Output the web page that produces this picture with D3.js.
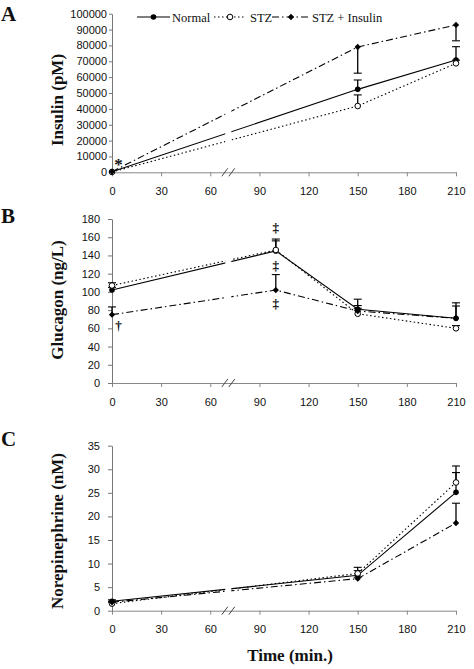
<!DOCTYPE html>
<html>
<head>
<meta charset="utf-8">
<script src="https://cdn.jsdelivr.net/npm/d3@7"></script>
<style>
  body { margin: 0; background: #fff; }
  text { fill: #111; }
</style>
</head>
<body>
<svg id="fig" width="474" height="669"></svg>
<script>
// ---- data ----
const seriesNames = ["Normal", "STZ", "STZ + Insulin"];
const timeTicks = [0, 30, 60, 90, 120, 150, 180, 210];

// A: insulin (pM)
const insulinTimes = [0, 150, 210];
const insulinNormal = [300, 52300, 70800];
const insulinSTZ = [200, 41800, 68700];
const insulinSTZIns = [400, 79000, 92900];
// error bars, sign = direction drawn
const insulinNormalErr = [0, 5900, 8400];
const insulinSTZErr = [0, 7000, 2000];
const insulinSTZInsErr = [0, -16500, -10000];
const insulinTicks = d3.range(0, 100001, 10000);

// B: glucagon (ng/L)
const glucagonTimes = [0, 100, 150, 210];
const glucagonNormal = [102, 145, 81, 71];
const glucagonSTZ = [107, 146, 76, 60];
const glucagonSTZIns = [75, 102, 79, 71];
const glucagonNormalErr = [3, 13, 11, 17];
const glucagonSTZErr = [3, 10, 9, 3];
const glucagonSTZInsErr = [8.5, 17, 3, 13.5];
const glucagonTicks = d3.range(0, 181, 20);

// C: norepinephrine (nM)
const neTimes = [0, 150, 210];
const neNormal = [2.0, 7.5, 25.1];
const neSTZ = [1.5, 7.9, 27.2];
const neSTZIns = [1.8, 6.8, 18.6];
const neNormalErr = [0.3, 1.0, 4.2];
const neSTZErr = [0.3, 1.3, 3.5];
const neSTZInsErr = [0.2, 0.3, 4.2];
const neTicks = d3.range(0, 36, 5);

// significance marks [time, value, symbol]
const insulinMarks = [[4, 8400, "*"]];
const glucagonMarks = [[4, 63, "†"], [100, 171, "‡"], [100, 129, "‡"], [100, 87, "‡"]];

const breakTime = 71;

// ---- drawing ----
const svg = d3.select("#fig");
const x = d3.scaleLinear().domain([0, 210]).range([112, 456]);
const dashes = ["none", "1.5,2.5", "7,3,1.5,3"];
const serif = "'Liberation Serif','Times New Roman',serif";
const sans = "'Liberation Sans',Arial,sans-serif";

function marker(sel, i) {
    if (i === 0) {
        sel.append("circle").attr("r", 2.8).attr("fill", "#000");
    } else if (i === 1) {
        sel.append("circle").attr("r", 2.8).attr("fill", "#fff")
            .attr("stroke", "#000").attr("stroke-width", 1);
    } else {
        sel.append("path").attr("d", d3.symbol(d3.symbolSquare, 20))
            .attr("transform", "rotate(45)").attr("fill", "#000");
    }
}

function drawPanel(p) {
    const y = d3.scaleLinear().domain(p.domain).range([p.bottom, p.top]);
    const g = svg.append("g");

    // x axis
    const xa = g.append("g").attr("transform", `translate(0,${p.bottom})`)
        .call(d3.axisBottom(x).tickValues(timeTicks).tickSize(4).tickPadding(11).tickSizeOuter(0));
    xa.select(".domain").attr("stroke", "#888");
    xa.selectAll(".tick line").attr("stroke", "#888");
    xa.selectAll("text").attr("font-family", sans).attr("font-size", 11).attr("fill", "#222");

    // y axis
    const ya = g.append("g").attr("transform", `translate(112,0)`)
        .call(d3.axisLeft(y).tickValues(p.ticks).tickFormat(d3.format("d"))
            .tickSize(p.tickSize).tickPadding(p.pad).tickSizeOuter(0));
    ya.select(".domain").attr("stroke", "#777");
    ya.selectAll(".tick line").attr("stroke", "#777");
    ya.selectAll("text").attr("font-family", sans).attr("font-size", 11).attr("fill", "#222");

    // series lines
    const line = d3.line().x(d => x(d.t)).y(d => y(d.v));
    p.series.forEach((s, i) => {
        const pts = p.times.map((t, j) => ({ t: t, v: s.values[j], e: s.err[j] }));
        g.append("path").datum(pts).attr("d", line)
            .attr("fill", "none").attr("stroke", "#000").attr("stroke-width", 1.1)
            .attr("stroke-dasharray", dashes[i]);
    });

    // axis break gap and marks
    const bx = x(breakTime);
    g.append("rect").attr("x", bx - 3).attr("y", p.top - 5).attr("width", 6)
        .attr("height", p.bottom - p.top + 4).attr("fill", "#fff");
    [-3.5, 3.5].forEach(dx => {
        g.append("line").attr("x1", bx + dx - 3).attr("y1", p.bottom + 4)
            .attr("x2", bx + dx + 3).attr("y2", p.bottom - 4)
            .attr("stroke", "#444").attr("stroke-width", 1);
    });

    // error bars and markers
    p.series.forEach((s, i) => {
        const pts = p.times.map((t, j) => ({ t: t, v: s.values[j], e: s.err[j] }));
        const eb = g.append("g").selectAll("g").data(pts.filter(d => d.e !== 0)).enter().append("g");
        eb.append("line").attr("x1", d => x(d.t)).attr("x2", d => x(d.t))
            .attr("y1", d => y(d.v)).attr("y2", d => y(d.v + d.e))
            .attr("stroke", "#000").attr("stroke-width", 1.3);
        eb.append("line").attr("x1", d => x(d.t) - 4).attr("x2", d => x(d.t) + 4)
            .attr("y1", d => y(d.v + d.e)).attr("y2", d => y(d.v + d.e))
            .attr("stroke", "#000").attr("stroke-width", 1.1);
    });
    p.series.forEach((s, i) => {
        p.times.forEach((t, j) => {
            const m = g.append("g").attr("transform", `translate(${x(t)},${y(s.values[j])})`);
            marker(m, i);
        });
    });

    // significance marks
    (p.marks || []).forEach(m => {
        g.append("text").attr("x", x(m[0])).attr("y", y(m[1]))
            .attr("dy", m[2] === "*" ? "0.62em" : "0.35em")
            .attr("text-anchor", "middle").attr("font-family", serif)
            .attr("font-weight", "bold").attr("fill", "#000")
            .attr("font-size", m[2] === "*" ? 17 : 13).text(m[2]);
    });

    // y title
    g.append("text").attr("transform", `translate(63,${p.titleY}) rotate(-90)`)
        .attr("text-anchor", "middle").attr("font-family", serif)
        .attr("font-weight", "bold").attr("font-size", 17).text(p.title);

    // panel letter
    g.append("text").attr("x", 1).attr("y", p.letterY)
        .attr("font-family", serif).attr("font-weight", "bold").attr("font-size", 21).text(p.letter);

    return y;
}

drawPanel({
    letter: "A", letterY: 21, title: "Insulin (pM)", titleY: 100,
    domain: [0, 100000], ticks: insulinTicks, top: 13.7, bottom: 172.3, tickSize: 3, pad: 2,
    times: insulinTimes, marks: insulinMarks,
    series: [
        { values: insulinNormal, err: insulinNormalErr },
        { values: insulinSTZ, err: insulinSTZErr },
        { values: insulinSTZIns, err: insulinSTZInsErr }
    ]
});

drawPanel({
    letter: "B", letterY: 223, title: "Glucagon (ng/L)", titleY: 300,
    domain: [0, 180], ticks: glucagonTicks, top: 219, bottom: 383, tickSize: 4, pad: 8,
    times: glucagonTimes, marks: glucagonMarks,
    series: [
        { values: glucagonNormal, err: glucagonNormalErr },
        { values: glucagonSTZ, err: glucagonSTZErr },
        { values: glucagonSTZIns, err: glucagonSTZInsErr }
    ]
});

drawPanel({
    letter: "C", letterY: 446, title: "Norepinephrine (nM)", titleY: 531,
    domain: [0, 35], ticks: neTicks, top: 445.7, bottom: 610.7, tickSize: 4, pad: 8,
    times: neTimes,
    series: [
        { values: neNormal, err: neNormalErr },
        { values: neSTZ, err: neSTZErr },
        { values: neSTZIns, err: neSTZInsErr }
    ]
});

// x title
svg.append("text").attr("x", 290).attr("y", 661).attr("text-anchor", "middle")
    .attr("font-family", serif).attr("font-weight", "bold").attr("font-size", 17)
    .text("Time (min.)");

// legend (panel A)
const legendItems = [
    { x1: 137, x2: 170, tx: 172 },
    { x1: 214, x2: 246, tx: 250 },
    { x1: 272, x2: 310, tx: 312 }
];
const lg = svg.append("g").attr("transform", "translate(0,17)");
legendItems.forEach((it, i) => {
    lg.append("line").attr("x1", it.x1).attr("x2", it.x2).attr("y1", 0).attr("y2", 0)
        .attr("stroke", "#000").attr("stroke-width", 1.1).attr("stroke-dasharray", dashes[i]);
    marker(lg.append("g").attr("transform", `translate(${(it.x1 + it.x2) / 2},0)`), i);
    lg.append("text").attr("x", it.tx).attr("y", 4.5).attr("font-family", serif)
        .attr("font-size", 12.5).text(seriesNames[i]);
});
</script>
</body>
</html>
